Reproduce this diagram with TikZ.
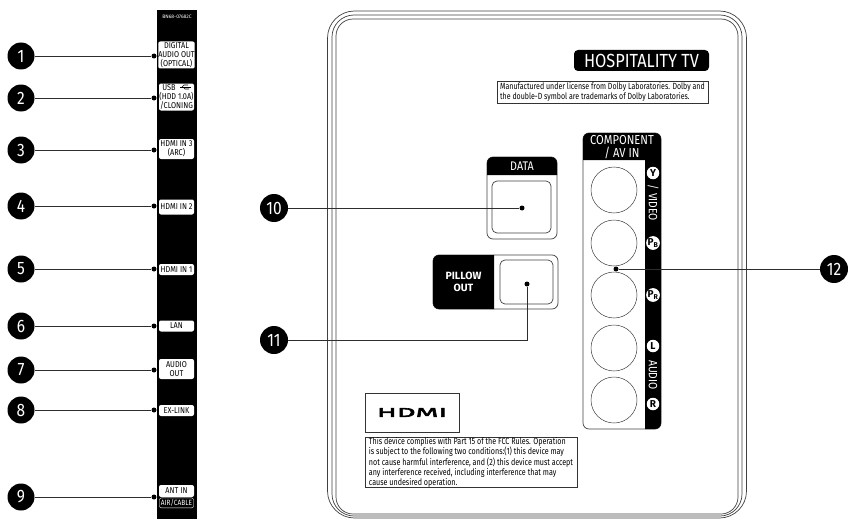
\documentclass[tikz,border=0pt]{standalone}
\usepackage{fontspec}
\setmainfont{Fira Sans}
\newfontfamily\notefont[FakeStretch=0.79]{Fira Sans}
\newfontfamily\labelfont[FakeStretch=0.86]{Fira Sans}
\newfontfamily\logofont[FakeBold=5,FakeStretch=2.35]{Fira Sans}
\usetikzlibrary{positioning}
\definecolor{lead}{RGB}{45,45,45}
\tikzset{
    numdot/.style={draw=none, fill=black, circle, minimum size=27pt, inner sep=0pt, text=white, font=\labelfont\fontsize{18}{18}\selectfont},
    portdot/.style={fill=black, circle, minimum size=5pt, inner sep=0pt},
    leadline/.style={draw=lead, line width=0.9pt},
    portlabel/.style={draw=none, fill=white, rectangle, rounded corners=2pt, minimum width=35pt, inner sep=0pt, align=center, font=\labelfont\fontsize{8.5}{8.8}\selectfont},
    rca/.style={draw=black!75, circle, minimum size=46pt, inner sep=0pt, line width=0.5pt},
    rcatag/.style={fill=white, circle, minimum size=12.5pt, inner sep=0pt, text=black, font=\bfseries\fontsize{10}{10}\selectfont},
    panelline/.style={draw=black!75, line width=0.7pt},
    notebox/.style={draw=black!80, rectangle, line width=0.7pt, inner sep=0pt, align=left, font=\notefont\fontsize{8.9}{8.7}\selectfont}
}

\begin{document}
\begin{tikzpicture}[x=1pt, y=-1pt]
    \useasboundingbox (0,0) rectangle (854,519);

    % Jack strip
    \node (strip) [fill=black, rectangle, minimum width=40pt, minimum height=509pt, inner sep=0pt, anchor=north west] at (157,10) {};
    \node (partno) [text=white, inner sep=0pt, font=\fontsize{5}{5}\selectfont] at (177,17) {BN68-07682C};

    \node (port1) [portlabel, minimum height=27pt] at (176.5,55) {DIGITAL\\AUDIO OUT\\(OPTICAL)};
    \node (port2) [portlabel, minimum height=27pt] at (176.5,97) {USB\rule{15pt}{0pt}\\(HDD 1.0A)\\/CLONING};
    \node (port3) [portlabel, minimum height=20pt] at (176.5,149) {HDMI IN 3\\(ARC)};
    \node (port4) [portlabel, minimum height=15pt] at (176.5,207) {HDMI IN 2};
    \node (port5) [portlabel, minimum height=11pt] at (176.5,269.5) {HDMI IN 1};
    \node (port6) [portlabel, minimum height=11pt] at (176.5,326) {LAN};
    \node (port7) [portlabel, minimum height=20pt] at (176.5,369) {AUDIO\\OUT};
    \node (port8) [portlabel, minimum height=11pt] at (176.5,410.5) {EX-LINK};
    \node (port9) [portlabel, minimum height=12pt] at (176.5,491) {ANT IN};
    \node (port9b) [portlabel, draw=white, fill=black, text=white, line width=0.4pt, minimum width=34pt, minimum height=10pt, below=0.5pt of port9, font=\labelfont\fontsize{7.6}{8}\selectfont] {AIR/CABLE};

    % USB mark
    \draw[black, line width=0.6pt] (180,87) -- (191,87);
    \draw[black, line width=0.6pt] (182,87) -- (184,85) -- (188,85);
    \draw[black, line width=0.6pt] (183,87) -- (185,89) -- (189,89);

    % Numbers
    \node (num1) [numdot] at (21,56) {1};
    \node (num2) [numdot] at (21,98) {2};
    \node (num3) [numdot] at (21,150) {3};
    \node (num4) [numdot] at (21,206) {4};
    \node (num5) [numdot] at (21,269) {5};
    \node (num6) [numdot] at (21,326) {6};
    \node (num7) [numdot] at (21,370) {7};
    \node (num8) [numdot] at (21,410) {8};
    \node (num9) [numdot] at (21,497) {9};

    \node (dot1) [portdot] at (154,56) {};
    \node (dot2) [portdot] at (154,98) {};
    \node (dot3) [portdot] at (154,150) {};
    \node (dot4) [portdot] at (154,206) {};
    \node (dot5) [portdot] at (154,269) {};
    \node (dot6) [portdot] at (154,326) {};
    \node (dot7) [portdot] at (154,370) {};
    \node (dot8) [portdot] at (154,410) {};
    \node (dot9) [portdot] at (154,497) {};

    % Back panel
    \draw[panelline, rounded corners=27pt] (327.5,11) rectangle (746.5,518);
    \draw[panelline, rounded corners=22pt] (332,15) rectangle (742,516);
    \draw[panelline, rounded corners=17pt] (336,19) rectangle (738,514);

    \node (brand) [fill=black, text=white, rectangle, rounded corners=4pt, minimum width=135pt, minimum height=21pt, inner sep=0pt, font=\labelfont\fontsize{19}{19}\selectfont] at (641.5,60.5) {HOSPITALITY TV};
    \node (dolby) [notebox, minimum width=211pt, minimum height=22pt] at (602.5,92) {Manufactured under license from Dolby Laboratories. Dolby and\\the double-D symbol are trademarks of Dolby Laboratories.};

    % Data
    \draw[panelline, rounded corners=6pt] (487,157) rectangle (557,239);
    \fill[black] (487,175) [rounded corners=6pt] -- (487,157) -- (557,157) [sharp corners] -- (557,175) -- cycle;
    \node (data) [text=white, inner sep=0pt, font=\labelfont\fontsize{12.5}{12.5}\selectfont] at (522,166) {DATA};
    \draw[panelline, rounded corners=5pt] (492,181) rectangle (551,233);

    % Pillow out
    \draw[panelline, rounded corners=6pt] (433,255) rectangle (558,309);
    \fill[black] (494,255) [rounded corners=6pt] -- (433,255) -- (433,309) [sharp corners] -- (494,309) -- cycle;
    \node (pillow) [text=white, inner sep=0pt, align=center, font=\bfseries\fontsize{10.5}{12}\selectfont] at (463.5,282) {PILLOW\\OUT};
    \draw[panelline, rounded corners=5pt] (500,260) rectangle (553,304);

    % Component
    \draw[panelline, rounded corners=6pt] (583,133) rectangle (661,429);
    \fill[black] (583,160) [rounded corners=6pt] -- (583,133) -- (661,133) -- (661,429) [sharp corners] -- (645,429) -- (645,160) -- cycle;
    \node (compo) [text=white, inner sep=0pt, align=center, font=\labelfont\fontsize{13}{13}\selectfont] at (622,147) {COMPONENT\\/ AV IN};

    \node (jack1) [rca] at (614,190) {};
    \node (jack2) [rca] at (614,243) {};
    \node (jack3) [rca] at (614,295) {};
    \node (jack4) [rca] at (614,348) {};
    \node (jack5) [rca] at (614,400) {};

    \node (tagy) [rcatag] at (653,173) {Y};
    \node (video) [text=white, inner sep=0pt, rotate=-90, font=\labelfont\fontsize{12}{12}\selectfont] at (653,203) {/ VIDEO};
    \node (tagpb) [rcatag] at (653,243) {P\textsubscript{B}};
    \node (tagpr) [rcatag] at (653,295) {P\textsubscript{R}};
    \node (tagl) [rcatag] at (653,346) {L};
    \node (audio) [text=white, inner sep=0pt, rotate=-90, font=\labelfont\fontsize{12}{12}\selectfont] at (653,375) {AUDIO};
    \node (tagr) [rcatag] at (653,404) {R};

    % Notes
    \node (hdmibox) [notebox, minimum width=94pt, minimum height=39pt] at (412,412.5) {};
    \node (hdmilogo) [inner sep=0pt, font=\logofont\fontsize{12.5}{12.5}\selectfont] at (412,412.5) {HDMI};
    \node (fccbox) [notebox, minimum width=212pt, minimum height=50pt, font=\notefont\fontsize{9.05}{8.7}\selectfont] at (471,462) {This device complies with Part 15 of the FCC Rules. Operation\\is subject to the following two conditions:(1) this device may\\not cause harmful interference, and (2) this device must accept\\any interference received, including interference that may\\cause undesired operation.};

    % Right numbers
    \node (num10) [numdot, minimum size=28pt] at (274,208) {10};
    \node (num11) [numdot, minimum size=28pt] at (274,340) {11};
    \node (num12) [numdot, minimum size=28pt] at (834,269) {12};
    \node (dot10) [portdot] at (522,208) {};
    \node (dot11) [portdot] at (527,284) {};
    \node (dot12) [portdot] at (616,269) {};

    % Arrows
    \draw[leadline] (num1) -- (dot1);
    \draw[leadline] (num2) -- (dot2);
    \draw[leadline] (num3) -- (dot3);
    \draw[leadline] (num4) -- (dot4);
    \draw[leadline] (num5) -- (dot5);
    \draw[leadline] (num6) -- (dot6);
    \draw[leadline] (num7) -- (dot7);
    \draw[leadline] (num8) -- (dot8);
    \draw[leadline] (num9) -- (dot9);
    \draw[leadline] (num10) -- (dot10);
    \draw[leadline] (num11) -| (dot11);
    \draw[leadline] (num12) -- (dot12);

\end{tikzpicture}
\end{document}
